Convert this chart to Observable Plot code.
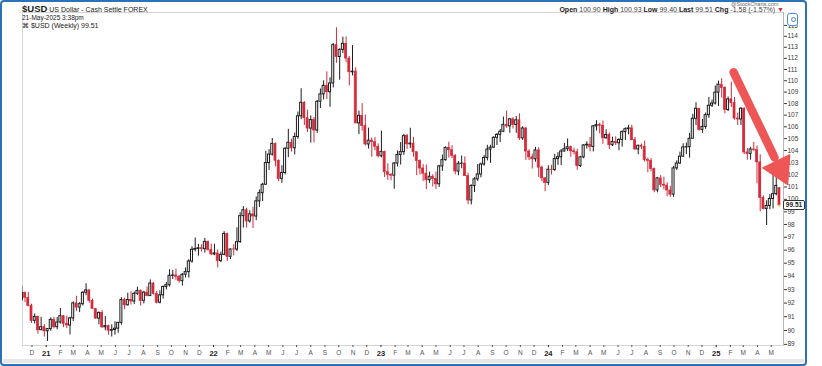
<!DOCTYPE html>
<html>
<head>
<meta charset="utf-8">
<script src="https://cdn.jsdelivr.net/npm/d3@7"></script>
<script src="https://cdn.jsdelivr.net/npm/@observablehq/plot@0.6"></script>
<style>
  html, body { margin: 0; padding: 0; background: #fff; }
  #wrap { position: relative; width: 822px; height: 366px; overflow: hidden; font-family: "Liberation Sans", Arial, sans-serif; color: #222; }
  #wrap svg { position: absolute; left: 0; top: 0; }
  .abs { position: absolute; white-space: nowrap; }
  #border { position: absolute; left: 0; top: 0; width: 803px; height: 362px; border: 2px solid #2d72b5; border-radius: 4px; pointer-events: none; }
  #scroll { position: absolute; left: 3px; width: 801px; top: 359px; height: 4px; background: #e6e6e6; }
  #pricebox { position: absolute; left: 783px; width: 20px; height: 8px; border: 1px solid #333; border-radius: 2px; background: #fff; font-size: 6.5px; font-weight: bold; text-align: center; line-height: 8px; }
  #icon { position: absolute; left: 787px; top: 13px; width: 9px; height: 11px; border: 1px solid #4a8fd6; border-radius: 3px; background: #fff; }
  #icon::after { content: ""; position: absolute; left: 2.5px; top: 3px; width: 3px; height: 3px; border: 1px solid #4a8fd6; border-radius: 50%; }
</style>
</head>
<body>
<div id="wrap">
  <div id="scroll"></div>
</div>
<script>
// ---- Weekly OHLC for $USD, weeks starting Monday 2020-11-09 through 2025-05-19 ----
const firstWeek = new Date(Date.UTC(2020, 10, 9));
const lastWeek = new Date(Date.UTC(2025, 4, 19));

const opens = [
  92.23,92.76,92.39,91.79,90.70,90.98,90.02,90.24,89.94,90.10,
  90.77,90.24,90.58,91.04,90.48,90.36,90.88,91.98,91.67,91.92,
  92.77,92.95,92.17,91.56,90.86,91.28,90.23,90.32,89.98,90.03,
  90.13,90.55,92.23,91.84,92.23,92.12,92.69,92.91,92.17,92.78,
  92.52,93.46,92.68,92.03,92.58,93.20,93.33,94.04,94.07,93.97,
  93.64,94.12,94.32,95.13,96.03,96.09,96.15,96.08,96.64,96.02,
  95.67,95.75,95.17,95.64,97.26,95.49,96.06,96.05,96.62,98.66,
  99.13,98.24,98.80,98.63,99.84,100.50,101.18,102.96,103.66,104.56,
  103.15,101.66,102.14,104.15,104.65,104.19,105.14,106.90,108.07,106.73,
  105.85,106.58,105.69,108.16,108.80,109.55,108.99,109.76,113.19,112.12,
  112.76,113.31,111.98,110.75,110.81,106.29,106.94,106.06,104.51,104.83,
  104.70,104.32,103.52,103.89,102.20,101.99,101.92,102.92,103.63,103.87,
  105.21,104.52,104.58,103.86,103.12,102.51,102.09,101.55,101.83,101.66,
  101.22,102.68,103.20,104.22,104.03,103.56,102.26,102.90,102.91,101.88,
  99.91,101.07,101.62,102.02,102.84,103.38,104.08,104.24,105.07,105.32,
  105.58,106.17,106.04,106.64,106.16,106.56,105.02,105.86,103.92,103.43,
  103.27,104.01,102.58,101.70,101.33,102.41,102.39,103.29,103.44,103.92,
  104.11,104.28,103.94,103.86,102.71,103.43,104.43,104.49,104.30,106.04,
  106.15,106.09,105.03,105.31,104.45,104.72,104.61,104.89,105.55,105.80,
  105.87,104.87,104.09,104.40,104.32,103.21,103.14,102.46,100.72,101.70,
  101.18,101.11,100.72,100.38,102.52,102.92,103.49,104.26,104.28,104.99,
  106.69,107.55,105.74,105.99,107.00,107.81,108.00,108.95,109.65,109.35,
  107.44,108.37,108.04,106.71,106.63,107.56,103.84,103.72,104.09,104.04,
  103.02,100.10,99.23,99.47,100.03,100.42,100.90
];
const highs = [
  93.21,92.83,92.80,91.92,91.21,91.04,90.96,90.43,90.12,90.92,
  90.95,90.95,91.60,91.09,91.05,90.97,92.09,92.51,92.04,92.85,
  93.44,92.98,92.30,91.60,91.35,91.44,91.01,90.38,90.41,90.63,
  90.60,92.41,92.37,92.74,92.84,92.83,93.19,92.99,92.87,93.20,
  93.73,93.53,92.87,92.91,93.27,93.53,94.50,94.45,94.56,94.06,
  94.21,94.63,95.27,96.26,96.94,96.45,96.42,96.91,96.71,96.46,
  96.46,96.03,95.85,97.44,97.31,96.09,96.42,97.74,98.93,99.42,
  99.29,99.09,99.37,100.19,100.76,101.30,103.93,104.07,105.01,104.64,
  103.22,102.74,104.24,105.79,104.95,105.48,107.27,109.29,108.17,107.43,
  106.93,106.81,108.27,109.27,109.99,110.79,110.26,113.33,114.78,112.86,
  113.92,113.95,112.16,113.15,111.16,107.35,108.00,107.00,105.89,105.06,
  105.09,104.56,105.63,103.95,102.90,102.09,103.01,103.96,104.67,105.36,
  105.36,105.88,105.11,103.87,103.23,102.83,102.80,102.21,102.00,102.22,
  102.77,103.62,104.31,104.70,104.40,103.65,103.08,103.54,103.47,102.12,
  101.18,101.76,102.84,102.96,103.59,104.44,104.44,105.16,105.43,105.78,
  106.84,107.35,106.71,106.79,106.89,107.11,106.01,105.94,104.05,103.71,
  104.26,104.24,102.72,101.77,102.73,102.77,103.69,103.82,104.09,104.60,
  104.97,104.37,104.19,104.11,103.51,104.49,104.73,105.10,106.11,106.52,
  106.30,106.49,105.74,105.48,105.12,105.15,104.99,105.67,105.91,106.13,
  106.13,105.11,104.44,104.55,104.80,103.37,103.33,102.55,101.78,101.93,
  101.80,101.34,101.06,102.69,103.14,103.87,104.57,104.63,105.44,107.07,
  108.07,107.57,106.63,107.18,108.54,108.30,109.54,109.97,110.18,109.47,
  108.58,109.88,108.52,107.18,107.64,107.64,104.17,104.27,104.68,104.38,
  103.65,100.27,99.89,100.38,101.98,101.98,100.93
];
const lows = [
  92.13,92.03,91.73,90.51,90.47,89.73,89.99,89.53,89.21,89.95,
  90.12,90.05,90.46,90.20,90.13,89.68,90.65,91.37,91.30,91.79,
  92.55,91.99,91.54,90.82,90.42,90.13,89.98,89.65,89.53,89.66,
  89.80,90.38,91.51,91.78,91.86,91.90,92.57,91.78,91.94,92.47,
  92.50,92.59,91.94,91.94,92.30,92.98,93.20,93.76,93.67,93.49,
  93.27,93.87,93.87,94.99,95.86,95.54,95.85,95.77,95.92,95.58,
  95.57,94.63,95.04,95.57,95.14,95.28,95.56,95.89,96.52,97.72,
  97.71,98.11,97.69,98.31,99.36,99.82,101.15,102.35,103.53,102.65,
  101.43,101.30,101.98,103.41,103.87,103.63,104.94,106.61,106.11,105.52,
  104.63,104.64,105.44,107.58,108.31,108.36,107.68,109.36,111.56,110.05,
  112.43,111.61,109.54,110.43,106.27,105.34,105.63,104.38,104.12,103.44,
  103.97,103.38,103.39,101.77,101.53,101.50,100.82,102.64,102.80,103.60,
  104.10,104.18,103.44,101.92,101.97,101.45,100.79,101.29,100.99,100.79,
  100.96,102.27,103.11,103.37,103.33,101.99,101.92,102.49,101.85,99.58,
  99.55,100.55,101.45,101.74,102.70,103.13,102.93,104.16,104.42,104.68,
  105.51,105.87,105.46,105.82,105.45,104.84,104.85,103.18,103.17,102.46,
  103.03,101.77,101.42,100.62,101.11,101.98,102.27,102.77,102.76,103.87,
  103.91,103.44,103.64,102.36,102.59,103.31,104.12,103.89,103.88,105.65,
  105.41,104.52,104.95,104.08,104.33,104.42,103.99,104.28,104.85,105.32,
  104.85,103.99,103.65,104.07,103.04,102.16,102.25,100.53,100.52,100.94,
  100.76,100.21,100.16,100.16,102.35,102.87,103.43,103.66,103.37,104.98,
  106.11,105.64,105.45,105.79,106.72,107.66,107.87,107.75,108.47,107.11,
  107.30,107.66,106.56,106.12,106.12,103.66,103.20,103.20,103.91,101.26,
  99.01,99.16,97.92,99.17,99.23,100.28,99.40
];
const closes = [
  92.76,92.39,91.79,90.70,90.98,90.02,90.24,89.94,90.10,90.77,
  90.24,90.58,91.04,90.48,90.36,90.88,91.98,91.67,91.92,92.77,
  92.95,92.17,91.56,90.86,91.28,90.23,90.32,89.98,90.03,90.13,
  90.55,92.23,91.84,92.23,92.12,92.69,92.91,92.17,92.78,92.52,
  93.46,92.68,92.03,92.58,93.20,93.33,94.04,94.07,93.97,93.64,
  94.12,94.32,95.13,96.03,96.09,96.15,96.08,96.64,96.02,95.67,
  95.75,95.17,95.64,97.26,95.49,96.05,96.05,96.62,98.66,99.13,
  98.24,98.80,98.63,99.84,100.50,101.18,102.96,103.66,104.56,103.15,
  101.66,102.14,104.15,104.65,104.19,105.14,106.90,108.07,106.73,105.85,
  106.58,105.69,108.16,108.80,109.55,108.99,109.76,113.19,112.12,112.76,
  113.31,111.98,110.75,110.81,106.29,106.94,106.06,104.51,104.83,104.70,
  104.32,103.52,103.89,102.20,101.99,101.92,102.92,103.63,103.87,105.21,
  104.52,104.58,103.86,103.12,102.51,102.09,101.55,101.83,101.66,101.22,
  102.68,103.20,104.22,104.03,103.56,102.26,102.90,102.91,101.88,99.91,
  101.07,101.62,102.02,102.84,103.38,104.08,104.24,105.07,105.32,105.58,
  106.17,106.04,106.64,106.16,106.56,105.02,105.86,103.92,103.43,103.27,
  104.01,102.58,101.70,101.33,102.41,102.39,103.29,103.44,103.92,104.11,
  104.28,103.94,103.86,102.71,103.43,104.43,104.49,104.30,106.04,106.15,
  106.09,105.03,105.31,104.45,104.72,104.61,104.89,105.55,105.80,105.87,
  104.87,104.09,104.40,104.32,103.21,103.14,102.46,100.72,101.70,101.18,
  101.11,100.72,100.38,102.52,102.92,103.49,104.26,104.28,104.99,106.69,
  107.55,105.74,105.99,107.00,107.81,108.00,108.95,109.65,109.35,107.44,
  108.37,108.04,106.71,106.63,107.56,103.84,103.72,104.09,104.04,103.02,
  100.10,99.23,99.47,100.03,100.42,101.09,99.51
];

// Axis tick labels
const monthLabels = [
  "D",
  "21","F","M","A","M","J","J","A","S","O","N","D",
  "22","F","M","A","M","J","J","A","S","O","N","D",
  "23","F","M","A","M","J","J","A","S","O","N","D",
  "24","F","M","A","M","J","J","A","S","O","N","D",
  "25","F","M","A","M"
];
const firstMonth = new Date(Date.UTC(2020, 11, 1));
const yTickValues = [89,90,91,92,93,94,95,96,97,98,99,100,101,102,103,104,105,106,107,108,109,110,111,112,113,114,115];

// Annotation arrow (date, value)
const arrowShaft = [
  {date: new Date(Date.UTC(2025, 1, 8)), value: 110.75},
  {date: new Date(Date.UTC(2025, 4, 8, 5)), value: 103.42}
];
const arrowHead = [{date: new Date(Date.UTC(2025, 4, 20, 5)), value: 102.46}];

// Header texts
const headerTitle = "$USD";
const headerName = "US Dollar - Cash Settle FOREX";
const headerDate = "21-May-2025 3:38pm";
const headerLegend = "$USD (Weekly) 99.51";
const quote = [["Open","100.90"],["High","100.93"],["Low","99.40"],["Last","99.51"],["Chg","-1.58 (-1.57%)"]];
const lastPrice = 99.51;

// ---- build ----
const weeks = d3.utcMonday.range(firstWeek, d3.utcDay.offset(lastWeek, 1));
const candles = weeks.map((date, i) => ({date, open: opens[i], high: highs[i], low: lows[i], close: closes[i]}));
const ups = candles.filter(d => d.close >= d.open);
const downs = candles.filter(d => d.close < d.open);
const lastCandle = candles[candles.length - 1];

const monthTicks = d3.utcMonth.range(firstMonth, d3.utcMonth.offset(firstMonth, monthLabels.length));
const labelOf = new Map(monthTicks.map((d, i) => [+d, monthLabels[i]]));
const yearTicks = monthTicks.filter(d => d.getUTCMonth() === 0);
const otherTicks = monthTicks.filter(d => d.getUTCMonth() !== 0);

const UP = "#1c1c1c", DOWN = "#d42a3a", ARROW = "#ee5656";
const half = 53; // hours, half body width
const xDomain = [new Date("2020-11-10T09:00Z"), new Date("2025-05-27T19:00Z")];

const chart = Plot.plot({
  width: 822,
  height: 366,
  marginLeft: 22,
  marginRight: 39,
  marginTop: 12,
  marginBottom: 21,
  style: {fontFamily: "Liberation Sans, Arial, sans-serif", fontSize: "7px", background: "transparent", overflow: "visible"},
  x: {type: "utc", domain: xDomain, axis: null},
  y: {type: "log", domain: [88.92, 116.2], axis: null},
  marks: [
    Plot.frame({stroke: "#d4d4d4"}),
    Plot.ruleX(ups, {x: "date", y1: "low", y2: "high", stroke: UP, strokeWidth: 1, clip: true}),
    Plot.ruleX(downs, {x: "date", y1: "low", y2: "high", stroke: DOWN, strokeWidth: 1, clip: true}),
    Plot.rect(ups, {x1: d => d3.utcHour.offset(d.date, -half), x2: d => d3.utcHour.offset(d.date, half), y1: "open", y2: "close", fill: "white", stroke: UP, strokeWidth: 1, clip: true}),
    Plot.rect(downs, {x1: d => d3.utcHour.offset(d.date, -half), x2: d => d3.utcHour.offset(d.date, half), y1: "open", y2: "close", fill: DOWN, stroke: DOWN, strokeWidth: 0.7, clip: true}),
    Plot.ruleY([lastCandle], {y: "close", x1: d => d3.utcHour.offset(d.date, -half), x2: d => d3.utcHour.offset(d.date, half), stroke: "#f2c230", strokeWidth: 1.5}),
    Plot.ruleX([xDomain[1]], {x: d => d, stroke: "#b8b8b8"}),
    Plot.axisY({anchor: "right", ticks: yTickValues, tickSize: 3, tickFormat: () => "", color: "#3a3a3a"}),
    Plot.text(yTickValues, {y: d => d, text: d => String(d), frameAnchor: "right", textAnchor: "start", dx: 4, fill: "#3a3a3a", fontSize: 6.5}),
    Plot.axisX({anchor: "bottom", ticks: otherTicks, tickSize: 2, tickPadding: 3, tickFormat: d => labelOf.get(+d), color: "#555", fontSize: 6.5}),
    Plot.axisX({anchor: "bottom", ticks: yearTicks, tickSize: 2, tickPadding: 3, tickFormat: d => labelOf.get(+d), color: "#222", fontSize: 7.5, fontWeight: "bold"}),
    Plot.link([arrowShaft], {x1: d => d[0].date, y1: d => d[0].value, x2: d => d[1].date, y2: d => d[1].value, stroke: ARROW, strokeWidth: 8.5, strokeLinecap: "round", clip: false}),
    Plot.dot(arrowHead, {x: "date", y: "value", symbol: "triangle", r: 11, fill: ARROW, stroke: ARROW, strokeWidth: 1.5, strokeLinejoin: "round", rotate: 154})
  ]
});

const wrap = document.getElementById("wrap");
wrap.appendChild(chart);

function addDiv(html, style) {
  const el = document.createElement("div");
  el.className = "abs";
  el.innerHTML = html;
  Object.assign(el.style, style);
  wrap.appendChild(el);
  return el;
}

addDiv(`<b style="font-size:9.5px">${headerTitle}</b> <span style="font-size:7px">${headerName}</span>`,
  {left: "22px", top: "4px", fontSize: "7px", lineHeight: "10px"});
addDiv(headerDate, {left: "22px", top: "14px", fontSize: "6.5px", lineHeight: "7px"});
addDiv(`&#8984; ${headerLegend}`, {left: "22px", top: "22px", fontSize: "7px", lineHeight: "8px"});
addDiv("@StockCharts.com", {left: "731px", top: "1px", fontSize: "5.5px", lineHeight: "6px", color: "#666"});
addDiv(quote.map(([k, v]) => `<b>${k}</b> <span style="color:#444">${v}</span>`).join(" ") + ` <span style="color:#d42a3a">&#9660;</span>`,
  {right: "38px", top: "6px", fontSize: "7px", lineHeight: "8px"});

const yScale = chart.scale("y");
const py = yScale.apply(lastPrice);
const box = document.createElement("div");
box.id = "pricebox";
box.textContent = lastPrice.toFixed(2);
box.style.top = (py - 5) + "px";
wrap.appendChild(box);

const icon = document.createElement("div");
icon.id = "icon";
wrap.appendChild(icon);

const border = document.createElement("div");
border.id = "border";
wrap.appendChild(border);
</script>
</body>
</html>
